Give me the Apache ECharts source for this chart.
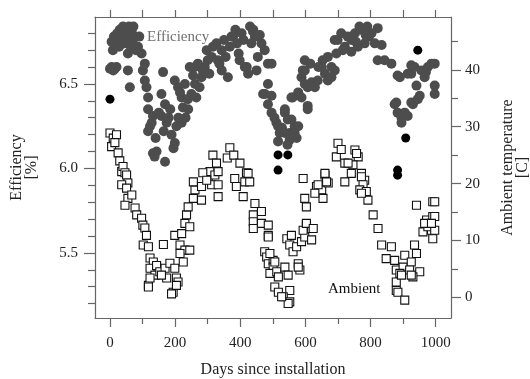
<!DOCTYPE html>
<html>
<head>
<meta charset="utf-8">
<script src="https://cdn.jsdelivr.net/npm/echarts@6/dist/echarts.min.js"></script>
<style>html,body{margin:0;padding:0;background:#fff}#c{width:530px;height:379px}</style>
</head>
<body>
<div id="c"></div>
<script>
// Efficiency [%] vs day (grey dots)
const efficiency = [
[5,6.75],[9,6.70],[12,6.78],[18,6.73],[22,6.80],[25,6.78],[30,6.82],[35,6.76],[40,6.84],[46,6.81],[50,6.78],[55,6.68],[58,6.84],[62,6.80],[67,6.82],[70,6.76],[72,6.84],[77,6.78],[80,6.70],[86,6.72],[90,6.78],[97,6.68],[0,6.59],[5,6.60],[10,6.58],[15,6.59],[20,6.60],[55,6.58],[61,6.48],[101,6.58],[107,6.62],[28,6.72],[44,6.74],[64,6.72],
[107,6.52],[112,6.48],[117,6.42],[117,6.35],[132,6.31],[123,6.25],[117,6.22],[143,6.10],[132,6.09],[137,6.07],[169,6.04],[163,6.57],[158,6.44],[169,6.38],[158,6.31],[174,6.27],[189,6.20],[199,6.15],[204,6.25],[195,6.12],[128,6.27],[140,6.18],[150,6.33],[165,6.22],[180,6.30],[185,6.35],
[199,6.52],[209,6.48],[220,6.42],[224,6.36],[239,6.41],[250,6.44],[261,6.50],[261,6.60],[281,6.54],[291,6.60],[312,6.66],[316,6.72],[220,6.27],[215,6.45],[230,6.50],[245,6.60],[255,6.55],[270,6.62],[275,6.48],[285,6.58],[297,6.70],[300,6.64],[305,6.56],[240,6.35],[232,6.30],[210,6.30],[265,6.42],
[327,6.74],[331,6.64],[343,6.70],[343,6.58],[350,6.76],[362,6.54],[368,6.72],[373,6.78],[378,6.78],[385,6.82],[390,6.74],[395,6.68],[404,6.80],[410,6.76],[414,6.60],[420,6.60],[424,6.56],[430,6.84],[434,6.74],[439,6.81],[440,6.82],[445,6.78],[450,6.58],[454,6.66],[460,6.79],[465,6.74],[470,6.44],[475,6.70],[485,6.62],[355,6.66],[336,6.62],[398,6.64],
[485,6.50],[476,6.44],[485,6.38],[496,6.33],[511,6.27],[521,6.21],[516,6.16],[537,6.35],[546,6.29],[567,6.25],[552,6.21],[573,6.18],[561,6.42],[496,6.62],[496,6.43],[516,6.25],[537,6.33],[537,6.21],[557,6.29],[578,6.25],[567,6.21],[552,6.17],[505,6.30],[528,6.24],[545,6.14],
[557,6.42],[578,6.45],[588,6.54],[598,6.64],[598,6.58],[607,6.48],[607,6.37],[619,6.51],[638,6.52],[629,6.48],[653,6.64],[660,6.56],[669,6.52],[680,6.60],[690,6.58],[695,6.68],[650,6.60],[669,6.66],[680,6.54],[592,6.58],[598,6.50],[588,6.42],[607,6.35],[615,6.62],[640,6.60],
[690,6.76],[699,6.76],[710,6.80],[721,6.72],[730,6.78],[741,6.76],[741,6.69],[752,6.80],[761,6.72],[766,6.84],[772,6.82],[782,6.74],[790,6.84],[795,6.78],[803,6.80],[813,6.74],[822,6.83],[834,6.73],[822,6.64],[843,6.64],[864,6.62],[715,6.70],[755,6.75],[785,6.79],
[883,6.55],[890,6.54],[914,6.56],[925,6.56],[925,6.61],[935,6.60],[941,6.49],[956,6.58],[966,6.54],[976,6.60],[987,6.62],[997,6.62],[997,6.49],[997,6.44],[874,6.38],[879,6.39],[883,6.33],[895,6.27],[895,6.30],[914,6.31],[930,6.38],[925,6.39],[945,6.41],[951,6.43],[970,6.57],[905,6.33]
];
// Highlighted efficiency points (black dots)
const efficiencyHighlighted = [[0,6.41],[516,6.08],[546,6.08],[516,5.99],[883,5.99],[883,5.96],[908,6.18],[945,6.70]];
// Ambient temperature [C] vs day (open squares)
const ambient = [
[0,28.9],[5,26.5],[10,28.0],[20,28.6],[25,25.4],[15,27.2],[30,24.0],[36,22.1],[40,23.0],[46,21.9],[51,21.5],[55,20.1],[36,19.8],[51,19.2],[55,17.4],[67,18.0],[46,16.2],[77,15.7],[82,14.5],[97,13.9],[101,12.7],[107,12.2],[112,10.9],[102,9.2],[118,8.9],[123,6.9],[133,6.2],[123,5.1],[143,5.6],[138,3.9],[118,2.1],[123,3.4],[153,4.5],[169,5.1],[174,3.4],[158,3.9],[184,6.0],[199,5.1],[204,3.4],[194,0.9],[209,2.7],[118,1.8],[189,0.6],[204,2.1],[164,9.3],[199,10.9],[220,11.2],[215,9.2],[230,8.3],[215,7.7],[225,6.2],[245,8.3],[230,13.0],[245,12.4],[235,14.5],[240,15.9],[256,17.4],[281,17.1],[261,18.9],[256,20.3],[281,19.5],[302,20.9],[307,22.1],[322,21.5],[312,19.8],[285,21.9],[297,20.6],[316,25.0],[327,23.6],[368,26.3],[360,24.5],[380,25.0],[399,23.6],[419,21.9],[332,22.1],[332,19.8],[332,17.7],[383,20.9],[388,19.5],[414,20.3],[424,21.8],[429,20.3],[409,17.7],[445,16.5],[440,14.5],[465,15.1],[440,13.3],[465,13.0],[440,12.1],[486,10.9],[475,8.0],[481,7.1],[486,5.9],[501,6.5],[501,5.3],[491,4.2],[512,4.5],[517,3.6],[537,5.3],[547,3.9],[506,1.8],[517,0.9],[552,1.2],[532,0.1],[552,-0.8],[547,-1.1],[527,0.1],[578,5.9],[583,4.8],[578,5.3],[543,10.3],[557,10.9],[552,9.2],[562,8.0],[573,8.9],[588,9.8],[598,10.6],[603,12.7],[619,12.1],[619,10.1],[593,11.8],[603,13.0],[624,12.1],[486,12.7],[486,10.6],[491,7.7],[506,6.2],[593,20.9],[598,17.4],[603,15.9],[634,19.5],[650,18.9],[660,21.5],[670,20.1],[654,17.4],[629,18.3],[639,19.8],[665,20.3],[660,21.8],[700,27.1],[695,24.7],[721,23.6],[752,25.9],[762,24.7],[746,23.3],[772,21.8],[782,20.6],[731,23.6],[710,26.0],[757,25.3],[721,20.3],[741,21.8],[772,21.2],[777,19.8],[767,18.9],[787,18.6],[792,17.1],[772,18.3],[808,14.5],[823,12.1],[834,9.2],[848,6.8],[864,8.9],[874,6.5],[879,4.8],[905,7.4],[900,5.3],[925,6.2],[935,9.2],[941,7.7],[920,4.8],[951,4.5],[890,4.2],[879,2.7],[879,1.2],[884,0.9],[905,-0.5],[930,3.6],[895,3.9],[925,3.9],[941,16.2],[991,16.8],[972,13.6],[991,14.2],[961,11.5],[987,11.8],[991,10.3],[976,12.4],[997,14.2],[997,11.8],[997,16.8],[966,13.0],[987,13.0]
];
// Tick values
const xMajorTicks = [0,200,400,600,800,1000];
const xMinorTicks = [100,300,500,700,900];
const xTopTicks = [0,100,200,300,400,500,600,700,800,900,1000];
const effMajorTicks = [5.5,6.0,6.5];
const effMinorTicks = [5.2,5.3,5.4,5.6,5.7,5.8,5.9,6.1,6.2,6.3,6.4,6.6,6.7,6.8];
const tempMajorTicks = [0,10,20,30,40];
const tempMinorTicks = [5,15,25,35,45];

const FONT = 'Liberation Serif';
const frame = '#666';
const X_MIN = -46, X_MAX = 1047;
const E_MIN = 5.115, E_MAX = 6.896;
const T_MIN = -3.64, T_MAX = 49.3;

function baseAx(opts) {
  return Object.assign({
    type: 'value', splitLine: {show: false},
    axisLine: {show: false, onZero: false}, axisLabel: {show: false}, axisTick: {show: false}
  }, opts);
}
const lineOn = {show: true, onZero: false, lineStyle: {color: frame, width: 1.2}};

const chart = echarts.init(document.getElementById('c'), null, {renderer: 'canvas'});
chart.setOption({
  animation: false,
  backgroundColor: '#fff',
  grid: {left: 95, top: 17, right: 79, bottom: 61, containLabel: false, outerBoundsMode: 'none'},
  xAxis: [
    baseAx({position: 'bottom', min: X_MIN, max: X_MAX,
      axisLine: lineOn,
      axisTick: {show: true, customValues: xMajorTicks, length: 9, lineStyle: {color: frame, width: 1.2}},
      axisLabel: {show: true, customValues: xMajorTicks, margin: 18, fontFamily: FONT, fontSize: 15, color: '#222',
        formatter: v => String(v)},
      name: 'Days since installation', nameLocation: 'middle', nameGap: 44,
      nameTextStyle: {fontFamily: FONT, fontSize: 16, color: '#222'}
    }),
    baseAx({position: 'bottom', min: X_MIN, max: X_MAX,
      axisTick: {show: true, customValues: xMinorTicks, length: 6, lineStyle: {color: frame, width: 1.2}}
    }),
    baseAx({position: 'top', min: X_MIN, max: X_MAX,
      axisLine: lineOn,
      axisTick: {show: true, customValues: xTopTicks, length: 7, lineStyle: {color: frame, width: 1.2}}
    })
  ],
  yAxis: [
    baseAx({position: 'left', min: E_MIN, max: E_MAX,
      axisLine: lineOn,
      axisTick: {show: true, customValues: effMajorTicks, length: 11, lineStyle: {color: frame, width: 1.2}},
      axisLabel: {show: true, customValues: effMajorTicks, margin: 17, fontFamily: FONT, fontSize: 15, color: '#222',
        formatter: v => Number(v).toFixed(1)},
      name: 'Efficiency\n[%]', nameLocation: 'middle', nameRotate: 90, nameGap: 56,
      nameTextStyle: {fontFamily: FONT, fontSize: 16, color: '#222', lineHeight: 15}
    }),
    baseAx({position: 'right', min: T_MIN, max: T_MAX,
      axisLine: lineOn,
      axisTick: {show: true, customValues: tempMajorTicks, length: 10, lineStyle: {color: frame, width: 1.2}},
      axisLabel: {show: true, customValues: tempMajorTicks, margin: 14, fontFamily: FONT, fontSize: 15, color: '#222',
        formatter: v => String(v)},
      name: 'Ambient temperature\n[C]', nameLocation: 'middle', nameRotate: 90, nameGap: 49,
      nameTextStyle: {fontFamily: FONT, fontSize: 16, color: '#222', lineHeight: 15}
    }),
    baseAx({position: 'left', min: E_MIN, max: E_MAX,
      axisTick: {show: true, customValues: effMinorTicks, length: 7, lineStyle: {color: frame, width: 1.2}}
    }),
    baseAx({position: 'right', min: T_MIN, max: T_MAX,
      axisTick: {show: true, customValues: tempMinorTicks, length: 7, lineStyle: {color: frame, width: 1.2}}
    })
  ],
  graphic: [
    {type: 'text', left: 147, top: 30, style: {text: 'Efficiency', fontFamily: FONT, fontSize: 15, fill: '#707070'}},
    {type: 'text', left: 328, top: 282, style: {text: 'Ambient', fontFamily: FONT, fontSize: 15, fill: '#111'}}
  ],
  series: [
    {type: 'scatter', name: 'Ambient', xAxisIndex: 0, yAxisIndex: 1, data: ambient,
      symbol: 'rect', symbolSize: 8,
      itemStyle: {color: '#fff', borderColor: '#111', borderWidth: 1.1, opacity: 1}},
    {type: 'scatter', name: 'Efficiency', xAxisIndex: 0, yAxisIndex: 0, data: efficiency,
      symbol: 'circle', symbolSize: 10,
      itemStyle: {color: '#4d4d4d', opacity: 1}},
    {type: 'scatter', name: 'Efficiency (highlighted)', xAxisIndex: 0, yAxisIndex: 0, data: efficiencyHighlighted,
      symbol: 'circle', symbolSize: 9,
      itemStyle: {color: '#000', opacity: 1}}
  ]
});
</script>
</body>
</html>
